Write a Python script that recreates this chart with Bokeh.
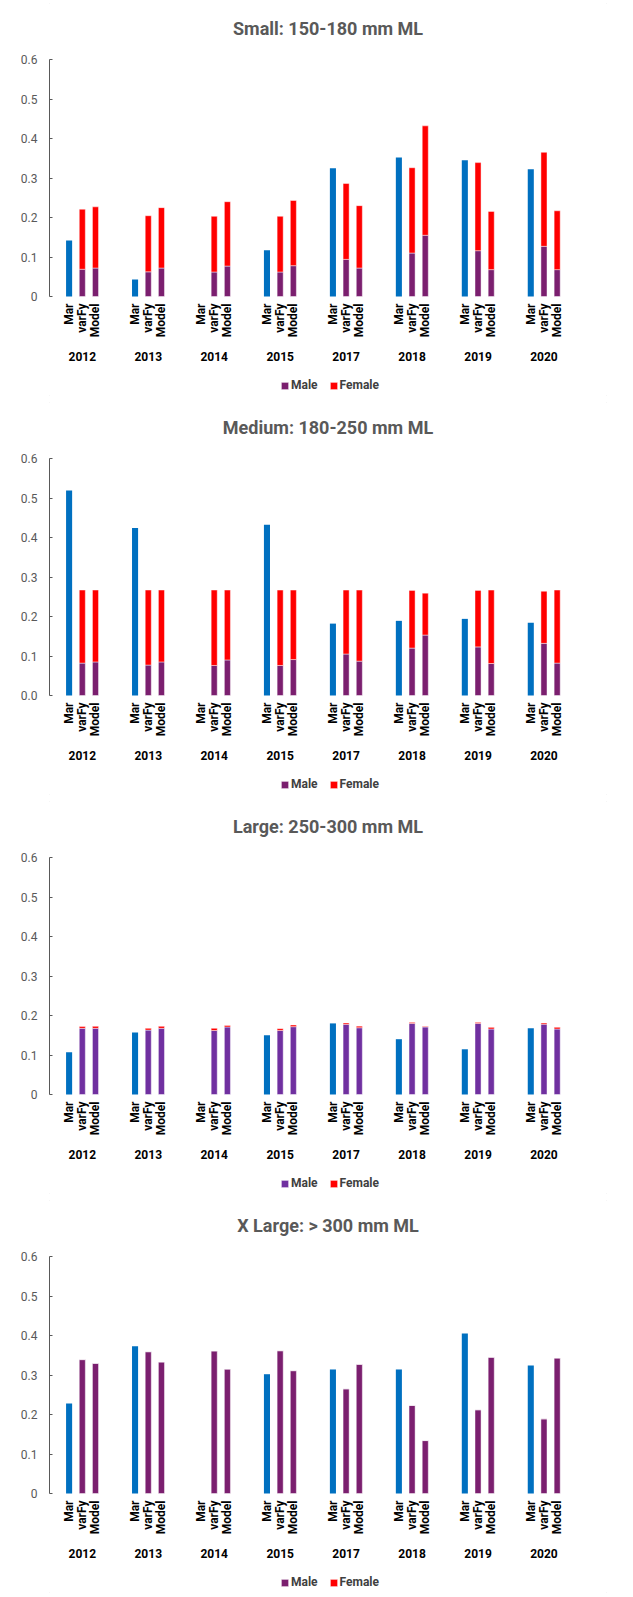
from math import pi
from bokeh.plotting import figure
from bokeh.models import (Range1d, FixedTicker, PrintfTickFormatter,
                          BasicTickFormatter, Legend, LegendItem, ColumnDataSource)
from bokeh.core.properties import value
from bokeh.layouts import column
from bokeh.embed import file_html
from bokeh.resources import INLINE

years = ["2012", "2013", "2014", "2015", "2017", "2018", "2019", "2020"]
methods = ["Mar", "varFy", "Model"]
y_ticks = [0, 0.1, 0.2, 0.3, 0.4, 0.5, 0.6]

# Small: 150-180 mm ML
small_mar = [0.142, 0.043, None, 0.117, 0.325, 0.352, 0.345, 0.322]
small_varfy_male = [0.069, 0.0625, 0.062, 0.062, 0.094, 0.110, 0.116, 0.127]
small_varfy_female = [0.152, 0.142, 0.141, 0.141, 0.192, 0.216, 0.223, 0.238]
small_model_male = [0.072, 0.072, 0.077, 0.078, 0.072, 0.155, 0.068, 0.068]
small_model_female = [0.155, 0.153, 0.163, 0.165, 0.158, 0.277, 0.1475, 0.149]

# Medium: 180-250 mm ML
medium_mar = [0.519, 0.424, None, 0.432, 0.182, 0.189, 0.194, 0.184]
medium_varfy_male = [0.082, 0.077, 0.076, 0.076, 0.105, 0.120, 0.123, 0.132]
medium_varfy_female = [0.185, 0.190, 0.191, 0.191, 0.162, 0.146, 0.143, 0.132]
medium_model_male = [0.085, 0.085, 0.090, 0.091, 0.087, 0.153, 0.081, 0.082]
medium_model_female = [0.182, 0.182, 0.177, 0.176, 0.180, 0.106, 0.186, 0.185]

# Large: 250-300 mm ML
large_mar = [0.107, 0.157, None, 0.150, 0.180, 0.140, 0.1145, 0.1675]
large_varfy_male = [0.1675, 0.163, 0.162, 0.162, 0.1776, 0.180, 0.180, 0.178]
large_varfy_female = [0.0045, 0.0045, 0.0055, 0.0046, 0.0034, 0.0026, 0.0026, 0.003]
large_model_male = [0.1675, 0.1675, 0.171, 0.1717, 0.169, 0.171, 0.1658, 0.1658]
large_model_female = [0.005, 0.005, 0.004, 0.0043, 0.004, 0.0015, 0.0042, 0.0042]

# X Large: > 300 mm ML
xlarge_mar = [0.228, 0.3725, None, 0.302, 0.314, 0.314, 0.405, 0.324]
xlarge_varfy_male = [0.339, 0.359, 0.361, 0.3615, 0.265, 0.223, 0.212, 0.189]
xlarge_varfy_female = [0, 0, 0, 0, 0, 0, 0, 0]
xlarge_model_male = [0.3295, 0.333, 0.315, 0.311, 0.327, 0.134, 0.345, 0.343]
xlarge_model_female = [0, 0, 0, 0, 0, 0, 0, 0]

MAR_COLOR = "#0070C0"
MALE_COLOR = "#7B1F6F"
MALE_COLOR_LARGE = "#7030A0"
FEMALE_COLOR = "#FF0000"
FONT = "Roboto"
GROUP_STEP = 5          # category slots per year group (3 bars + 2 empty)
PX_PER_UNIT = 395.0     # vertical pixels per y unit (0.6 -> 237 px)
ZERO_Y = 296            # pixel row of y=0 inside a panel
TOP_Y = 59              # pixel row of y=0.6 inside a panel
X_START, X_END = -1.486, 40.74
BAR_W = 0.46


def pos(i, j):
    return i * GROUP_STEP + j


def make_panel(title, mar, vf_m, vf_f, md_m, md_f, male_color, fmt, height):
    y_end = 0.6 + TOP_Y / PX_PER_UNIT
    y_start = -(height - ZERO_Y) / PX_PER_UNIT
    p = figure(
        x_range=Range1d(X_START, X_END),
        y_range=Range1d(y_start, y_end),
        x_axis_type=None,
        width=633, height=height,
        min_border_left=49, min_border_right=27,
        min_border_top=0, min_border_bottom=0,
        output_backend="svg", toolbar_location=None,
    )
    p.styles = {"outline": "1px solid #d9d9d9", "outline-offset": "-4px"}
    p.outline_line_color = None
    p.grid.grid_line_color = None

    # title
    p.text(x=[(X_START + X_END) / 2], y=[0.6], text=[title], y_offset=-31,
           text_align="center", text_baseline="middle",
           text_font=value(FONT), text_font_size="18px", text_font_style="bold",
           text_color="#595959")

    mar_src = ColumnDataSource(dict(
        x=[pos(i, 0) for i, v in enumerate(mar) if v is not None],
        top=[v for v in mar if v is not None],
    ))
    p.vbar(x="x", top="top", width=BAR_W, source=mar_src,
           fill_color=MAR_COLOR, line_color=None)

    n = len(years)
    stack_src = ColumnDataSource(dict(
        x=[pos(i, 1) for i in range(n)] + [pos(i, 2) for i in range(n)],
        male=list(vf_m) + list(md_m),
        female=list(vf_f) + list(md_f),
    ))
    rs = p.vbar_stack(["male", "female"], x="x", width=BAR_W, source=stack_src,
                      fill_color=[male_color, FEMALE_COLOR],
                      line_color="white", line_alpha=0.45, line_width=1)

    # sub-category labels (Mar / varFy / Model), vertical
    p.text(x=[pos(i, j) for i in range(n) for j in range(len(methods))],
           y=[0] * (n * len(methods)),
           text=[m for i in range(n) for m in methods],
           angle=pi / 2, y_offset=7,
           text_align="right", text_baseline="middle",
           text_font=value(FONT), text_font_size="12px", text_font_style="bold",
           text_color="black")

    # year labels
    p.text(x=[pos(i, 1) for i in range(n)], y=[0] * n, text=years, y_offset=60,
           text_align="center", text_baseline="middle",
           text_font=value(FONT), text_font_size="12px", text_font_style="bold",
           text_color="black")

    legend = Legend(items=[LegendItem(label="Male", renderers=[rs[0]]),
                           LegendItem(label="Female", renderers=[rs[1]])],
                    location=(231, height - ZERO_Y - 89 - 7), orientation="horizontal")
    legend.background_fill_alpha = 0
    legend.border_line_color = None
    legend.padding = 0
    legend.margin = 0
    legend.glyph_width = 9
    legend.glyph_height = 9
    legend.label_height = 14
    legend.label_standoff = 2
    legend.spacing = 11
    legend.label_text_font = FONT
    legend.label_text_font_size = "12px"
    legend.label_text_font_style = "bold"
    legend.label_text_color = "#404040"
    p.add_layout(legend, "center")

    ya = p.yaxis[0]
    ya.bounds = (0, 0.6)
    ya.ticker = FixedTicker(ticks=y_ticks)
    ya.formatter = fmt
    ya.major_tick_in = 3
    ya.major_tick_out = 0
    ya.minor_tick_line_color = None
    ya.axis_line_color = "#595959"
    ya.major_tick_line_color = "#595959"
    ya.major_label_standoff = 12
    ya.major_label_text_font = FONT
    ya.major_label_text_font_size = "12px"
    ya.major_label_text_color = "#595959"
    return p


p1 = make_panel("Small: 150-180 mm ML", small_mar, small_varfy_male, small_varfy_female,
                small_model_male, small_model_female, MALE_COLOR, BasicTickFormatter(), 399)
p2 = make_panel("Medium: 180-250 mm ML", medium_mar, medium_varfy_male, medium_varfy_female,
                medium_model_male, medium_model_female, MALE_COLOR,
                PrintfTickFormatter(format="%.1f"), 399)
p3 = make_panel("Large: 250-300 mm ML", large_mar, large_varfy_male, large_varfy_female,
                large_model_male, large_model_female, MALE_COLOR_LARGE, BasicTickFormatter(), 399)
p4 = make_panel("X Large: > 300 mm ML", xlarge_mar, xlarge_varfy_male, xlarge_varfy_female,
                xlarge_model_male, xlarge_model_female, MALE_COLOR, BasicTickFormatter(), 399)

layout = column(p1, p2, p3, p4, spacing=0)
open("out.html", "w").write(file_html(layout, INLINE))
